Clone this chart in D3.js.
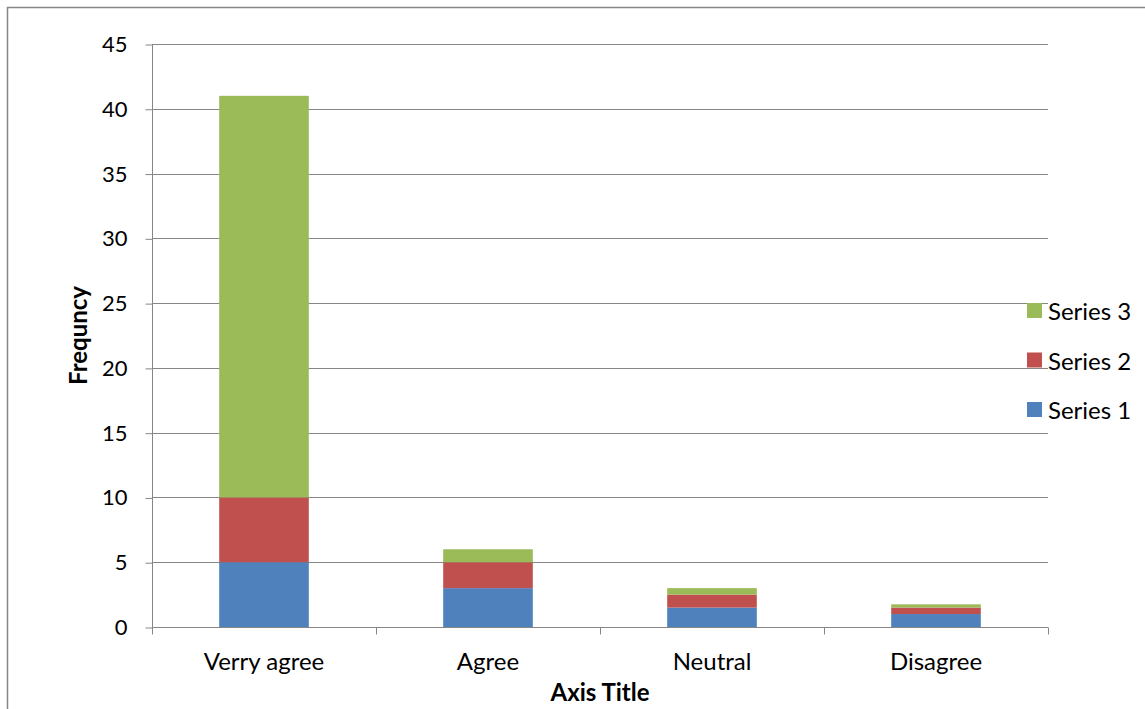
<!DOCTYPE html>
<html>
<head>
<meta charset="utf-8">
<script src="https://cdn.jsdelivr.net/npm/d3@7"></script>
<style>
  html, body { margin: 0; padding: 0; background: #fff; }
  svg { display: block; font-family: Lato, "Open Sans", sans-serif; }
</style>
</head>
<body>
<svg id="chart" width="1145" height="709"></svg>
<script>
// Categories and stacked series values
const categories = ["Verry agree", "Agree", "Neutral", "Disagree"];
const seriesNames = ["Series 1", "Series 2", "Series 3"];
const series1 = [5, 3, 1.5, 1];
const series2 = [5, 2, 1, 0.5];
const series3 = [31, 1, 0.5, 0.25];
const yTicks = [0, 5, 10, 15, 20, 25, 30, 35, 40, 45];
const colors = ["#4F81BD", "#C0504D", "#9BBB59"];

const svg = d3.select("#chart");

// outer chart border
svg.append("rect")
  .attr("x", 7.5).attr("y", 7.5)
  .attr("width", 1145).attr("height", 720)
  .attr("fill", "#fff").attr("stroke", "#868686").attr("stroke-width", 1.5);

const plot = { left: 152, right: 1048, top: 44, bottom: 627 };

const x = d3.scaleBand().domain(categories)
  .range([plot.left, plot.right]).paddingInner(0.6).paddingOuter(0.3);
const xOuter = d3.scaleBand().domain(categories).range([plot.left, plot.right]);
const y = d3.scaleLinear().domain([0, 45]).range([plot.bottom, plot.top]);

// horizontal gridlines
svg.append("g").selectAll("line").data(yTicks.filter(t => t > 0)).join("line")
  .attr("x1", plot.left).attr("x2", plot.right)
  .attr("y1", d => Math.round(y(d)) + 0.5).attr("y2", d => Math.round(y(d)) + 0.5)
  .attr("stroke", "#868686").attr("stroke-width", 1);

// stacked bars
const rows = categories.map((c, i) => ({ cat: c, s0: series1[i], s1: series2[i], s2: series3[i] }));
const stack = d3.stack().keys(["s0", "s1", "s2"])(rows);
svg.append("g").selectAll("g").data(stack).join("g")
  .attr("fill", (d, i) => colors[i])
  .selectAll("rect").data(d => d).join("rect")
  .attr("x", d => x(d.data.cat))
  .attr("width", x.bandwidth())
  .attr("y", d => y(d[1]))
  .attr("height", d => y(d[0]) - y(d[1]));

// y axis
const yAxis = d3.axisLeft(y).tickValues(yTicks).tickSize(7).tickPadding(18);
const gy = svg.append("g").attr("transform", `translate(${plot.left + 0.5},0.5)`).call(yAxis);
gy.select(".domain").attr("stroke", "#868686").attr("d", `M0,${plot.top}V${plot.bottom}`);
gy.selectAll(".tick line").attr("stroke", "#868686");
gy.selectAll(".tick text").attr("font-size", 22).attr("fill", "#000")
  .attr("font-family", "Lato, sans-serif");

// x axis
const gx = svg.append("g").attr("transform", `translate(0,${plot.bottom + 0.5})`);
gx.append("line").attr("x1", plot.left).attr("x2", plot.right)
  .attr("stroke", "#868686");
const boundaries = categories.map(c => xOuter(c)).concat([plot.right]);
gx.selectAll("line.tk").data(boundaries).join("line").attr("class", "tk")
  .attr("x1", d => Math.round(d) + 0.5).attr("x2", d => Math.round(d) + 0.5)
  .attr("y1", 0).attr("y2", 7).attr("stroke", "#868686");
gx.selectAll("text").data(categories).join("text")
  .attr("x", d => x(d) + x.bandwidth() / 2)
  .attr("y", 42)
  .attr("text-anchor", "middle")
  .attr("font-size", 24).attr("fill", "#000")
  .text(d => d);

// axis titles
svg.append("text")
  .attr("x", 600).attr("y", 701)
  .attr("text-anchor", "middle").attr("font-size", 24).attr("font-weight", "bold")
  .text("Axis Title");
svg.append("text")
  .attr("transform", `translate(87,${(plot.top + plot.bottom) / 2}) rotate(-90)`)
  .attr("text-anchor", "middle").attr("font-size", 24).attr("font-weight", "bold")
  .text("Frequncy");

// legend (Series 3 on top)
const legend = svg.append("g");
const order = [2, 1, 0];
order.forEach((si, k) => {
  const ly = 303 + k * 49.5;
  legend.append("rect").attr("x", 1027).attr("y", ly)
    .attr("width", 15).attr("height", 15).attr("fill", colors[si]);
  legend.append("text").attr("x", 1048).attr("y", ly + 17)
    .attr("font-size", 24).attr("fill", "#000").text(seriesNames[si]);
});
</script>
</body>
</html>
